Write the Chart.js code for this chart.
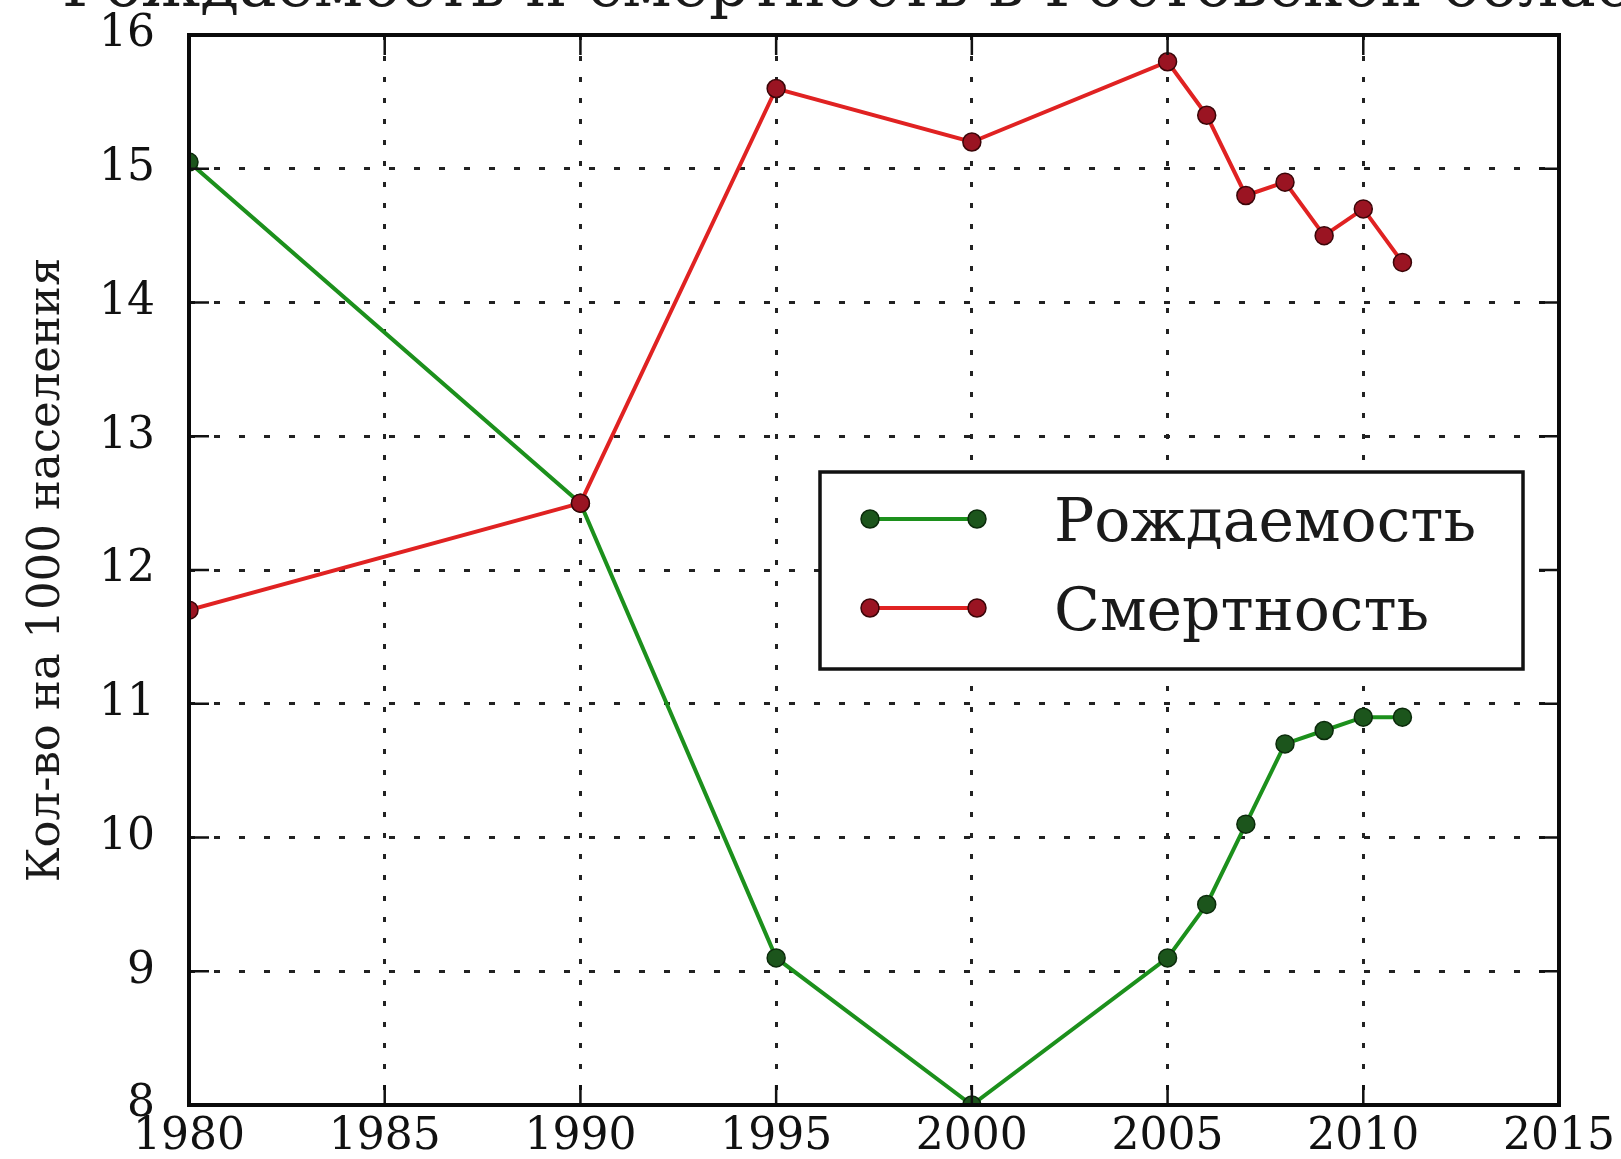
<!DOCTYPE html>
<html>
<head>
<meta charset="utf-8">
<script src="https://cdn.jsdelivr.net/npm/chart.js@4.4.1/dist/chart.umd.min.js"></script>
<style>
html,body{margin:0;padding:0;background:#fff;overflow:hidden}
canvas{display:block}
</style>
</head>
<body>
<canvas id="c" width="1621" height="1159"></canvas>
<script>
const titleText = 'Рождаемость и смертность в Ростовской области';
const yAxisTitle = 'Кол-во на 1000 населения';
const seriesLabels = ['Рождаемость', 'Смертность'];
const years = [1980, 1990, 1995, 2000, 2005, 2006, 2007, 2008, 2009, 2010, 2011];
const birthRate = [15.05, 12.5, 9.1, 8.0, 9.1, 9.5, 10.1, 10.7, 10.8, 10.9, 10.9];
const deathRate = [11.7, 12.5, 15.6, 15.2, 15.8, 15.4, 14.8, 14.9, 14.5, 14.7, 14.3];
const xTickValues = [1980, 1985, 1990, 1995, 2000, 2005, 2010, 2015];
const yTickValues = [8, 9, 10, 11, 12, 13, 14, 15, 16];

const FONT = '"DejaVu Serif", "Liberation Serif", serif';

const titlePlugin = {
  id: 'cutTitle',
  afterDraw(chart) {
    const ctx = chart.ctx;
    ctx.save();
    ctx.font = '63px ' + FONT;
    ctx.fillStyle = '#1a1a1a';
    ctx.textAlign = 'left';
    ctx.textBaseline = 'alphabetic';
    ctx.fillText(titleText, 62, 6);
    ctx.restore();
  }
};

const framePlugin = {
  id: 'frame',
  afterDatasetsDraw(chart) {
    const {ctx, chartArea: a, scales} = chart;
    ctx.save();
    ctx.strokeStyle = '#111';
    ctx.lineWidth = 2.5;
    const tl = 20;
    ctx.beginPath();
    scales.x.ticks.forEach(t => {
      const px = scales.x.getPixelForValue(t.value);
      ctx.moveTo(px, a.top); ctx.lineTo(px, a.top + tl);
      ctx.moveTo(px, a.bottom); ctx.lineTo(px, a.bottom - tl);
    });
    scales.y.ticks.forEach(t => {
      const py = scales.y.getPixelForValue(t.value);
      ctx.moveTo(a.left, py); ctx.lineTo(a.left + tl, py);
      ctx.moveTo(a.right, py); ctx.lineTo(a.right - tl, py);
    });
    ctx.stroke();
    ctx.lineWidth = 4;
    ctx.strokeStyle = '#0a0a0a';
    ctx.strokeRect(a.left, a.top, a.right - a.left, a.bottom - a.top);
    ctx.restore();
  }
};

const legendPlugin = {
  id: 'boxLegend',
  afterDraw(chart) {
    const ctx = chart.ctx;
    const bx = 820, by = 472, bw = 703, bh = 197;
    ctx.save();
    ctx.fillStyle = '#fff';
    ctx.fillRect(bx, by, bw, bh);
    ctx.lineWidth = 3.5;
    ctx.strokeStyle = '#111';
    ctx.strokeRect(bx, by, bw, bh);
    const rows = [519, 608];
    chart.data.datasets.forEach((ds, i) => {
      const y = rows[i];
      ctx.strokeStyle = ds.borderColor;
      ctx.lineWidth = ds.borderWidth;
      ctx.beginPath(); ctx.moveTo(870, y); ctx.lineTo(977, y); ctx.stroke();
      [870, 977].forEach(x => {
        ctx.beginPath();
        ctx.arc(x, y, ds.pointRadius, 0, Math.PI * 2);
        ctx.fillStyle = ds.pointBackgroundColor;
        ctx.fill();
        ctx.lineWidth = ds.pointBorderWidth;
        ctx.strokeStyle = ds.pointBorderColor;
        ctx.stroke();
      });
      ctx.fillStyle = '#1a1a1a';
      ctx.font = '60px ' + FONT;
      ctx.textAlign = 'left';
      ctx.textBaseline = 'alphabetic';
      ctx.fillText(ds.label, 1054, y + 22);
    });
    ctx.restore();
  }
};

new Chart(document.getElementById('c'), {
  type: 'line',
  data: {
    datasets: [
      {
        label: seriesLabels[0],
        data: years.map((x, i) => ({x, y: birthRate[i]})),
        borderColor: '#1c901c',
        borderWidth: 4,
        pointRadius: 9,
        pointBackgroundColor: '#1c551c',
        pointBorderColor: '#0b2b0b',
        pointBorderWidth: 1.5,
        tension: 0,
        clip: 0,
        order: 2
      },
      {
        label: seriesLabels[1],
        data: years.map((x, i) => ({x, y: deathRate[i]})),
        borderColor: '#e02222',
        borderWidth: 4,
        pointRadius: 9,
        pointBackgroundColor: '#9a1422',
        pointBorderColor: '#3a0508',
        pointBorderWidth: 1.5,
        tension: 0,
        clip: 0,
        order: 1
      }
    ]
  },
  options: {
    responsive: false,
    animation: false,
    events: [],
    layout: {padding: {top: 35, right: 62, left: 0, bottom: 0}},
    plugins: {legend: {display: false}, title: {display: false}, tooltip: {enabled: false}},
    scales: {
      x: {
        type: 'linear',
        min: 1980, max: 2015,
        afterBuildTicks: s => { s.ticks = xTickValues.map(v => ({value: v})); },
        afterFit: s => { s.height = 54; s.paddingLeft = 0; s.paddingRight = 0; },
        ticks: {
          font: {family: FONT, size: 44},
          color: '#111',
          padding: 6,
          maxRotation: 0,
          autoSkip: false,
          callback: v => String(v)
        },
        grid: {color: '#222', lineWidth: 3, drawTicks: false},
        border: {display: false, dash: [5, 16]}
      },
      y: {
        type: 'linear',
        min: 8, max: 16,
        afterBuildTicks: s => { s.ticks = yTickValues.map(v => ({value: v})); },
        afterFit: s => { s.width = 189; s.paddingTop = 0; s.paddingBottom = 0; },
        ticks: {
          font: {family: FONT, size: 44},
          color: '#111',
          padding: 34,
          autoSkip: false,
          callback: v => String(v)
        },
        title: {
          display: true,
          text: yAxisTitle,
          font: {family: FONT, size: 45},
          color: '#1a1a1a',
          padding: {top: 20, bottom: 0}
        },
        grid: {color: '#222', lineWidth: 3, drawTicks: false},
        border: {display: false, dash: [6, 19]}
      }
    }
  },
  plugins: [framePlugin, legendPlugin, titlePlugin]
});
</script>
</body>
</html>
